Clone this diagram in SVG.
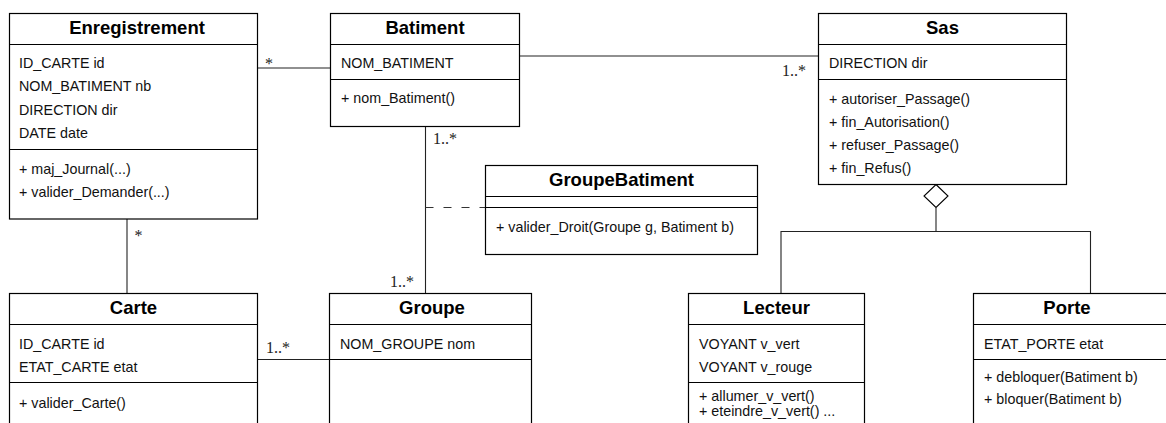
<svg xmlns="http://www.w3.org/2000/svg" width="1166" height="423" viewBox="0 0 1166 423">
<style>
.box{fill:#fff;stroke:#000;stroke-width:1.2}
.sep{stroke:#000;stroke-width:1.2;fill:none}
.t{font-family:"Liberation Sans",Arial,sans-serif;font-size:18.5px;font-weight:bold;fill:#000;text-anchor:middle}
.a{font-family:"Liberation Sans",Arial,sans-serif;font-size:14.3px;fill:#111}
.m{font-family:"Liberation Serif","Times New Roman",serif;font-size:16px;fill:#222}
.c{stroke:#222;stroke-width:1.1;fill:none}
.d{stroke:#333;stroke-width:1.1;fill:none;stroke-dasharray:8,10}
</style>
<rect width="1166" height="423" fill="#fff"/>
<g id="connectors">
<line class="c" x1="257.5" y1="68" x2="330.5" y2="68"/>
<line class="c" x1="519.5" y1="56" x2="818.5" y2="56"/>
<line class="c" x1="425.5" y1="126.5" x2="425.5" y2="293.5"/>
<line class="d" x1="425.5" y1="207.5" x2="485.5" y2="207.5"/>
<line class="c" x1="127" y1="219" x2="127" y2="293.5"/>
<line class="c" x1="257.5" y1="359.5" x2="329.5" y2="359.5"/>
<polygon points="936,184.5 948,196 936,207.5 924,196" fill="#fff" stroke="#000" stroke-width="1.1"/>
<polyline class="c" points="936,207.5 936,231.5"/>
<polyline class="c" points="781,293.5 781,231.5 1090.5,231.5 1090.5,293.5"/>
<text class="m" x="265" y="68.5">*</text>
<text class="m" x="782" y="76">1..*</text>
<text class="m" x="433" y="143.5">1..*</text>
<text class="m" x="390" y="287">1..*</text>
<text class="m" x="134.5" y="241">*</text>
<text class="m" x="266" y="352.5">1..*</text>
</g>
<g id="Enregistrement">
<rect class="box" x="9.5" y="13.5" width="248" height="205.5"/>
<line class="sep" x1="9.5" y1="44.5" x2="257.5" y2="44.5"/>
<line class="sep" x1="9.5" y1="149.5" x2="257.5" y2="149.5"/>
<text class="t" x="137" y="33.5">Enregistrement</text>
<text class="a" x="19" y="67.5">ID_CARTE id</text>
<text class="a" x="19" y="91">NOM_BATIMENT nb</text>
<text class="a" x="19" y="114.5">DIRECTION dir</text>
<text class="a" x="19" y="138">DATE date</text>
<text class="a" x="19" y="174">+ maj_Journal(...)</text>
<text class="a" x="19" y="197">+ valider_Demander(...)</text>
</g>
<g id="Batiment">
<rect class="box" x="330.5" y="13.5" width="189" height="113"/>
<line class="sep" x1="330.5" y1="44.5" x2="519.5" y2="44.5"/>
<line class="sep" x1="330.5" y1="79.5" x2="519.5" y2="79.5"/>
<text class="t" x="425" y="33.5">Batiment</text>
<text class="a" x="341" y="68">NOM_BATIMENT</text>
<text class="a" x="341" y="103">+ nom_Batiment()</text>
</g>
<g id="Sas">
<rect class="box" x="818.5" y="13.5" width="248" height="171"/>
<line class="sep" x1="818.5" y1="44.5" x2="1066.5" y2="44.5"/>
<line class="sep" x1="818.5" y1="79.5" x2="1066.5" y2="79.5"/>
<text class="t" x="942.5" y="33.5">Sas</text>
<text class="a" x="829" y="68">DIRECTION dir</text>
<text class="a" x="829" y="104">+ autoriser_Passage()</text>
<text class="a" x="829" y="126.5">+ fin_Autorisation()</text>
<text class="a" x="829" y="150">+ refuser_Passage()</text>
<text class="a" x="829" y="173">+ fin_Refus()</text>
</g>
<g id="GroupeBatiment">
<rect class="box" x="485.5" y="165.5" width="272" height="89"/>
<line class="sep" x1="485.5" y1="196.5" x2="757.5" y2="196.5"/>
<line class="sep" x1="485.5" y1="207.5" x2="757.5" y2="207.5"/>
<text class="t" x="621.5" y="186">GroupeBatiment</text>
<text class="a" x="496" y="232">+ valider_Droit(Groupe g, Batiment b)</text>
</g>
<g id="Carte">
<rect class="box" x="9.5" y="293.5" width="248" height="140"/>
<line class="sep" x1="9.5" y1="324.5" x2="257.5" y2="324.5"/>
<line class="sep" x1="9.5" y1="382.5" x2="257.5" y2="382.5"/>
<text class="t" x="133.5" y="313.5">Carte</text>
<text class="a" x="19" y="348.5">ID_CARTE id</text>
<text class="a" x="19" y="372">ETAT_CARTE etat</text>
<text class="a" x="19" y="407.5">+ valider_Carte()</text>
</g>
<g id="Groupe">
<rect class="box" x="329.5" y="293.5" width="202" height="140"/>
<line class="sep" x1="329.5" y1="324.5" x2="531.5" y2="324.5"/>
<line class="sep" x1="329.5" y1="359.5" x2="531.5" y2="359.5"/>
<text class="t" x="432" y="313.5">Groupe</text>
<text class="a" x="340" y="348.5">NOM_GROUPE nom</text>
</g>
<g id="Lecteur">
<rect class="box" x="688.5" y="293.5" width="176" height="140"/>
<line class="sep" x1="688.5" y1="324.5" x2="864.5" y2="324.5"/>
<line class="sep" x1="688.5" y1="382.5" x2="864.5" y2="382.5"/>
<text class="t" x="776.5" y="313.5">Lecteur</text>
<text class="a" x="699" y="349">VOYANT v_vert</text>
<text class="a" x="699" y="372">VOYANT v_rouge</text>
<text class="a" x="699" y="401">+ allumer_v_vert()</text>
<text class="a" x="699" y="415.5">+ eteindre_v_vert() ...</text>
</g>
<g id="Porte">
<rect class="box" x="973.5" y="293.5" width="200" height="140"/>
<line class="sep" x1="973.5" y1="324.5" x2="1173.5" y2="324.5"/>
<line class="sep" x1="973.5" y1="359.5" x2="1173.5" y2="359.5"/>
<text class="t" x="1067" y="313.5">Porte</text>
<text class="a" x="984" y="349">ETAT_PORTE etat</text>
<text class="a" x="984" y="382">+ debloquer(Batiment b)</text>
<text class="a" x="984" y="404">+ bloquer(Batiment b)</text>
</g>
</svg>
